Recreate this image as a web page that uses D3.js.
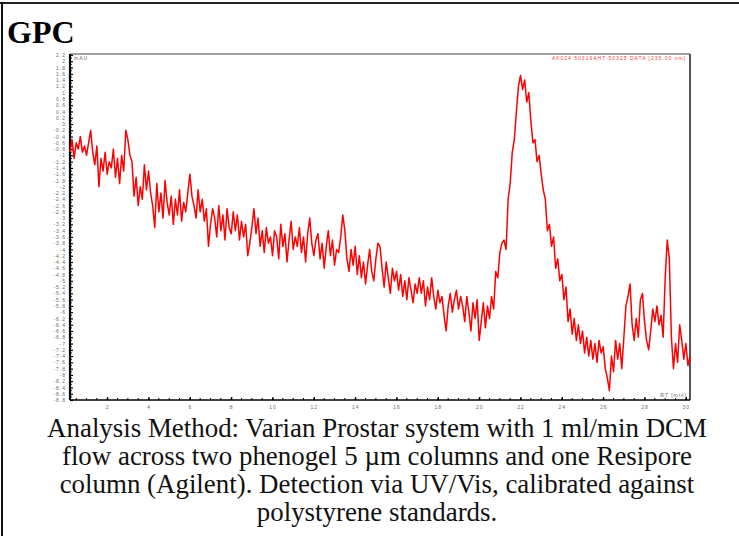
<!DOCTYPE html>
<html lang="en">
<head>
<meta charset="UTF-8">
<title>GPC</title>
<script src="https://d3js.org/d3.v7.min.js"></script>
<style>
  body { margin: 0; background: #fff; }
  svg { display: block; }
</style>
</head>
<body>
<svg width="739" height="536"></svg>
<script>
// detector trace, one reading every 0.1 min starting at 0.2 min
var rtStart = 0.2, rtStep = 0.1;
var signal = [
  -0.9, -0.5, -1.1, -0.6, -0.8, -0.4, -0.9, -0.7, -1.0, -0.6,
  -0.2, -0.9, -1.3, -0.7, -2.0, -1.1, -1.5, -0.9, -1.6, -1.2,
  -1.4, -0.8, -1.7, -1.1, -1.9, -1.0, -1.5, -0.2, -0.5, -1.0,
  -1.2, -2.3, -1.7, -2.6, -2.0, -2.4, -1.3, -2.1, -1.5, -2.2,
  -2.6, -3.3, -1.9, -2.8, -2.2, -3.0, -1.8, -2.5, -2.9, -2.3,
  -3.2, -2.4, -2.9, -2.1, -3.1, -2.5, -2.8, -2.2, -1.6, -2.3,
  -2.6, -3.0, -2.1, -2.8, -2.4, -3.1, -2.7, -3.9, -3.2, -2.7,
  -3.0, -3.6, -2.6, -3.4, -2.9, -3.7, -2.7, -3.3, -3.5, -2.8,
  -3.4, -2.9, -3.7, -3.1, -3.6, -3.2, -4.2, -3.8, -3.3, -2.7,
  -3.5, -3.0, -3.9, -3.4, -4.1, -3.3, -3.8, -3.6, -4.2, -3.4,
  -3.6, -4.3, -3.2, -3.9, -3.5, -4.4, -3.7, -3.1, -4.0, -3.6,
  -3.9, -3.3, -4.1, -3.6, -4.4, -3.5, -3.0, -3.8, -4.2, -3.7,
  -3.5, -4.3, -3.8, -4.6, -3.9, -3.4, -4.2, -3.7, -4.5, -4.0,
  -4.1, -3.6, -2.9, -3.4, -4.3, -4.7, -4.0, -4.5, -3.9, -4.8,
  -4.2, -4.9, -4.4, -5.1, -4.5, -4.0, -4.7, -5.0, -4.3, -3.8,
  -3.9, -4.6, -5.2, -4.4, -4.9, -5.4, -4.6, -5.0, -4.7, -5.3,
  -4.8, -5.5, -5.0, -5.6, -4.9, -5.3, -5.7, -5.1, -5.4, -4.9,
  -5.4, -5.0, -5.8, -5.2, -5.6, -4.9, -5.5, -5.9, -5.3, -5.7,
  -5.5, -6.1, -6.6, -5.8, -5.4, -6.0, -5.6, -5.3, -5.9, -5.5,
  -5.8, -6.3, -5.5, -6.0, -6.6, -5.7, -6.2, -5.6, -6.9, -6.3,
  -5.7, -6.5, -5.8, -6.2, -5.5, -5.9, -4.7, -4.9, -4.1, -3.8,
  -3.7, -4.0, -2.4, -1.9, -0.9, -0.5, 0.4, 1.2, 1.55, 1.1,
  1.4, 0.7, 1.0, 0.1, -0.6, -0.5, -1.2, -1.0, -1.6, -2.1,
  -2.4, -3.4, -3.2, -3.9, -3.6, -4.6, -4.3, -5.0, -4.8, -5.6,
  -5.2, -6.3, -5.9, -6.7, -6.2, -6.9, -6.4, -7.0, -6.6, -7.3,
  -6.8, -7.4, -6.9, -7.5, -7.0, -7.6, -6.9, -7.3, -7.1, -7.8,
  -8.1, -8.5, -7.4, -7.9, -6.9, -7.5, -7.0, -7.8, -6.8, -5.8,
  -5.5, -5.1, -6.4, -6.9, -6.2, -6.8, -5.6, -5.4, -6.3, -6.9,
  -7.2, -6.6, -5.9, -6.3, -5.8, -6.4, -6.1, -6.8, -4.9, -3.7,
  -4.3, -6.8, -7.8, -7.0, -7.6, -6.4, -6.9, -7.5, -7.0, -7.7, -7.4
];

var xTicks = [2, 4, 6, 8, 10, 12, 14, 16, 18, 20, 22, 24, 26, 28, 30];
var yTicks = [2.2, 2, 1.8, 1.6, 1.4, 1.2, 1, 0.8, 0.6, 0.4, 0.2, 0,
  -0.2, -0.4, -0.6, -0.8, -1, -1.2, -1.4, -1.6, -1.8, -2, -2.2, -2.4, -2.6, -2.8,
  -3, -3.2, -3.4, -3.6, -3.8, -4, -4.2, -4.4, -4.6, -4.8, -5, -5.2, -5.4, -5.6,
  -5.8, -6, -6.2, -6.4, -6.6, -6.8, -7, -7.2, -7.4, -7.6, -7.8, -8, -8.2, -8.4,
  -8.6, -8.8];

var caption = [
  "Analysis Method: Varian Prostar system with 1 ml/min DCM",
  "flow across two phenogel 5 \u00b5m columns and one Resipore",
  "column (Agilent). Detection via UV/Vis, calibrated against",
  "polystyrene standards."
];

var dataset = signal.map((v, i) => [rtStart + i * rtStep, v]);

var svg = d3.select("svg");

// frame of the cell (top and left only)
svg.append("rect").attr("x", 0).attr("y", 2).attr("width", 739).attr("height", 2).attr("fill", "#222");
svg.append("rect").attr("x", 1).attr("y", 2).attr("width", 2).attr("height", 534).attr("fill", "#111");

svg.append("text")
  .attr("x", 7).attr("y", 43)
  .style("font-family", "'Liberation Serif', 'Times New Roman', serif")
  .style("font-weight", "bold")
  .style("font-size", "32px")
  .text("GPC");

var pLeft = 70, pRight = 690, pTop = 55, pBottom = 400;
var xscale = d3.scaleLinear().domain([0.2, 30.2]).range([pLeft, pRight]);
var yscale = d3.scaleLinear().domain([-8.8, 2.2]).range([pBottom, pTop]);

var plot = svg.append("g");

// plot box
plot.append("line").attr("x1", pLeft).attr("x2", pRight).attr("y1", pTop - 1).attr("y2", pTop - 1)
  .attr("stroke", "#444").attr("stroke-width", 1);
plot.append("line").attr("x1", pRight).attr("x2", pRight).attr("y1", pTop - 1).attr("y2", pBottom)
  .attr("stroke", "#555").attr("stroke-width", 2);

// minor ticks
var xMinor = d3.range(0.5, 30.01, 0.5);
plot.append("g").selectAll("line").data(xMinor).enter().append("line")
  .attr("x1", d => xscale(d)).attr("x2", d => xscale(d))
  .attr("y1", pBottom).attr("y2", pBottom - 2)
  .attr("stroke", "#000").attr("stroke-width", 1);
var yMinor = d3.range(-8.7, 2.2, 0.2);
plot.append("g").selectAll("line").data(yMinor).enter().append("line")
  .attr("x1", pLeft).attr("x2", pLeft + 2)
  .attr("y1", d => yscale(d)).attr("y2", d => yscale(d))
  .attr("stroke", "#000").attr("stroke-width", 0.8);

var fmt = d => String(+d.toFixed(1));
var small = "'Liberation Sans', Arial, sans-serif";

var yAxis = d3.axisLeft(yscale).tickValues(yTicks).tickSize(-3).tickPadding(4).tickFormat(fmt);
var gy = plot.append("g").attr("transform", "translate(" + pLeft + ",0)").call(yAxis);
gy.select(".domain").attr("stroke-width", 2.2).attr("d", "M0," + (pTop - 1) + "V" + pBottom);
gy.selectAll(".tick line").attr("stroke-width", 1.2);
gy.selectAll("text")
  .style("font-family", small)
  .style("font-size", "5px")
  .style("letter-spacing", "1px")
  .attr("fill", "#6a6a6a");

var xAxis = d3.axisBottom(xscale).tickValues(xTicks).tickSize(-3).tickPadding(5).tickFormat(fmt);
var gx = plot.append("g").attr("transform", "translate(0," + pBottom + ")").call(xAxis);
gx.select(".domain").attr("stroke-width", 1.6).attr("d", "M" + pLeft + ",0H" + pRight);
gx.selectAll(".tick line").attr("stroke-width", 1.2);
gx.selectAll("text")
  .style("font-family", small)
  .style("font-size", "5px")
  .style("letter-spacing", "1px")
  .attr("fill", "#6a6a6a");

// corner labels
plot.append("text").attr("x", pLeft + 4).attr("y", pTop + 5)
  .style("font-family", small).style("font-size", "5px").style("letter-spacing", "1px")
  .attr("fill", "#666").text("mAU");
plot.append("text").attr("x", pRight - 4).attr("y", pTop + 5).attr("text-anchor", "end")
  .style("font-family", small).style("font-size", "5px").style("letter-spacing", "1px")
  .attr("fill", "#f04040").text("AK024 50319AHT-50325.DATA [235.00 nm]");
plot.append("text").attr("x", pRight - 3).attr("y", pBottom - 3).attr("text-anchor", "end")
  .style("font-family", small).style("font-size", "5px").style("letter-spacing", "1px")
  .attr("fill", "#666").text("RT [min]");

// trace
var line = d3.line().x(d => xscale(d[0])).y(d => yscale(d[1]));
plot.append("path").datum(dataset)
  .attr("d", line)
  .attr("fill", "none")
  .attr("stroke", "#ff0000")
  .attr("stroke-width", 1.5)
  .attr("stroke-linejoin", "round");

// caption
svg.append("g").selectAll("text").data(caption).enter().append("text")
  .attr("x", 377)
  .attr("y", (d, i) => 437 + i * 28)
  .attr("text-anchor", "middle")
  .style("font-family", "'Liberation Serif', 'Times New Roman', serif")
  .style("font-size", "26.9px")
  .attr("fill", "#111")
  .text(d => d);
</script>
</body>
</html>
